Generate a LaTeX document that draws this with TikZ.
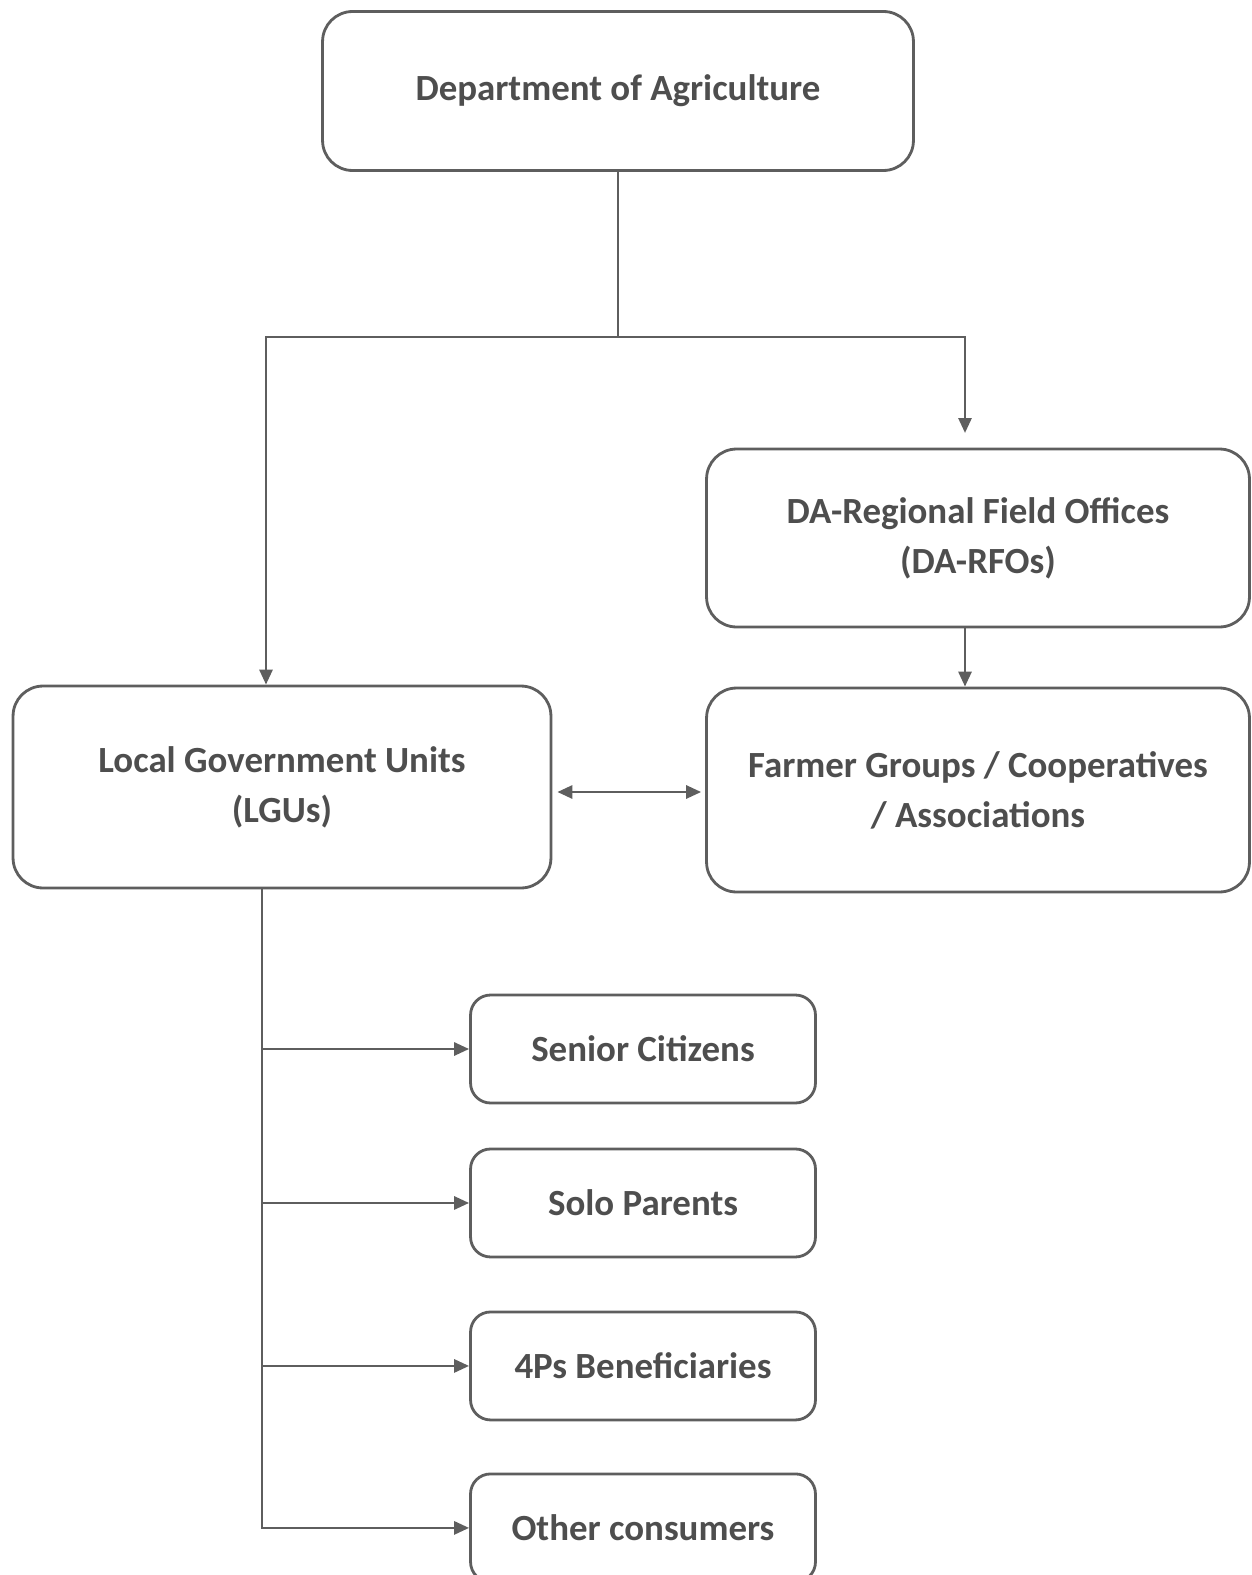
\documentclass[tikz,border=0pt]{standalone}
\usepackage{fontspec}
\setmainfont{Carlito}
\usetikzlibrary{positioning, arrows.meta}
\definecolor{inkgray}{HTML}{4E4E4E}
\definecolor{linegray}{HTML}{5E5E5E}

\begin{document}
\begin{tikzpicture}[x=0.02cm,y=-0.02cm,on grid,
	box/.style={draw=linegray,line width=1.6pt,rounded corners=0.6cm,align=center,text=inkgray,
		font=\fontsize{21}{28.5}\selectfont\bfseries,inner sep=0pt},
	smallbox/.style={box,rounded corners=0.4cm,minimum width=6.9cm,minimum height=2.16cm},
	link/.style={draw=linegray,line width=1.6pt},
	arr/.style={link,-{Triangle[length=0.3cm,width=0.26cm]}},
	dblarr/.style={link,{Triangle[length=0.3cm,width=0.26cm]}-{Triangle[length=0.3cm,width=0.26cm]}}]
	\useasboundingbox (0,0) rectangle (1251,1575);
	\node[box,minimum width=11.82cm,minimum height=3.18cm] (da) at (618,91) {Department of Agriculture};
	\node[box,minimum width=10.86cm,minimum height=3.56cm] (rfo) at (978,538) {DA-Regional Field Offices\\(DA-RFOs)};
	\node[box,minimum width=10.86cm,minimum height=4.08cm] (farm) at (978,790) {Farmer Groups / Cooperatives\\/ Associations};
	\node[box,minimum width=10.76cm,minimum height=4.04cm] (lgu) at (282,787) {Local Government Units\\(LGUs)};
	\node[smallbox] (sen) at (643,1049) {Senior Citizens};
	\node[smallbox] (solo) [below=3.08cm of sen] {Solo Parents};
	\node[smallbox] (fourps) [below=3.26cm of solo] {4Ps Beneficiaries};
	\node[smallbox] (oth) [below=3.24cm of fourps] {Other consumers};
	\coordinate (lc) at (266,337);
	\coordinate (rc) at (965,337);
	\coordinate (rtip) at (965,433);
	\coordinate (tr) at (262,1528);
	\draw[arr] (da.south) -- (da.south |- lc) -- (lc) -- (lc |- lgu.north);
	\draw[arr] (da.south |- lc) -- (rc) -- (rtip);
	\draw[arr] (rfo.south -| rtip) -- (farm.north -| rtip);
	\draw[dblarr,shorten <=0.1cm,shorten >=0.08cm] ([yshift=-0.1cm]lgu.east) -- ([yshift=-0.1cm]lgu.east -| farm.west);
	\draw[arr] (lgu.south -| tr) -- (tr |- oth) -- (oth);
	\draw[arr] (tr |- sen) -- (sen);
	\draw[arr] (tr |- solo) -- (solo);
	\draw[arr] (tr |- fourps) -- (fourps);
\end{tikzpicture}
\end{document}
